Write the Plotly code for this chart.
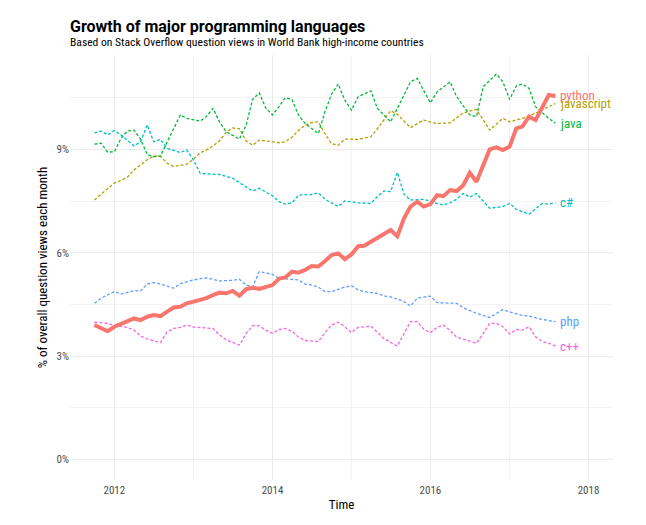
import pandas as pd
import plotly.graph_objects as go

# months counted from Oct 2011, share of question views in %
start = pd.Timestamp('2011-10-01')

python_months = [0, 1, 2, 3, 4, 6, 7, 8, 9, 10, 11, 12, 13, 14, 16, 17, 18, 19, 20, 21, 22, 23, 24, 25,
                 27, 28, 29, 30, 31, 32, 33, 34, 35, 36, 37, 38, 39, 40, 41, 42, 43, 44, 45, 46, 47, 48,
                 49, 50, 51, 52, 53, 54, 55, 56, 57, 58, 59, 60, 61, 62, 63, 64, 65, 66, 67, 68, 69, 70]
python_share = [3.90, 3.80, 3.72, 3.85, 3.93, 4.09, 4.04, 4.14, 4.19, 4.16, 4.29, 4.41, 4.43, 4.53,
                4.63, 4.68, 4.77, 4.84, 4.82, 4.89, 4.75, 4.94, 4.98, 4.95,
                5.06, 5.25, 5.28, 5.45, 5.42, 5.50, 5.61, 5.60, 5.76, 5.93, 5.98, 5.81, 5.95, 6.19, 6.20,
                6.32, 6.42, 6.56, 6.66, 6.48, 7.00, 7.34, 7.48, 7.34, 7.41, 7.67, 7.64, 7.82, 7.79, 7.96,
                8.32, 8.06, 8.51, 9.00, 9.06, 8.98, 9.08, 9.61, 9.66, 9.95, 9.85, 10.24, 10.58, 10.55]

java_months = [0, 1, 2, 3, 4, 5, 6, 7, 8, 9, 10, 12, 13, 14, 16, 17, 18, 19, 20, 22, 23, 24, 25, 26,
               27, 28, 29, 30, 31, 32, 33, 34, 35, 36, 37, 38, 39, 40, 42, 43, 45, 47, 48, 49, 51, 52,
               54, 55, 57, 58, 59, 61, 62, 63, 64, 65, 66, 67, 69, 70]
java_share = [9.15, 9.18, 8.92, 8.93, 9.32, 9.53, 9.56, 9.30, 8.85, 8.79, 8.81, 9.61, 10.00, 9.90,
              9.82, 9.95, 10.19, 9.80, 9.51, 9.30, 9.70, 10.45, 10.64, 10.20, 10.00, 10.25, 10.50,
              10.45, 10.00, 9.75, 9.60, 9.46, 10.10, 10.60, 10.90, 10.43, 10.14, 10.53, 10.70, 10.19,
              9.80, 10.60, 10.96, 11.06, 10.35, 10.67, 10.96, 10.53, 10.00, 9.95, 10.82, 11.19, 10.96,
              10.45, 10.84, 10.90, 10.77, 10.24, 9.90, 9.76]

js_months = [0, 1, 3, 4, 5, 6, 8, 9, 10, 11, 12, 14, 15, 16, 17, 18, 19, 20, 21, 22, 23, 24, 25,
             27, 28, 29, 30, 31, 32, 33, 34, 35, 36, 37, 38, 40, 42, 43, 44, 45, 46, 48, 50, 52, 54,
             56, 58, 60, 62, 63, 65, 67, 69, 70]
js_share = [7.53, 7.70, 8.02, 8.10, 8.19, 8.40, 8.70, 8.80, 8.80, 8.60, 8.50, 8.57, 8.72, 8.90, 8.98,
            9.10, 9.25, 9.50, 9.62, 9.60, 9.25, 9.12, 9.27, 9.22, 9.19, 9.22, 9.35, 9.55, 9.70, 9.78,
            9.80, 9.45, 9.17, 9.12, 9.30, 9.29, 9.37, 9.60, 9.85, 10.12, 10.02, 9.63, 9.85, 9.75, 9.77,
            10.06, 10.16, 9.56, 9.90, 9.80, 9.90, 10.05, 10.24, 10.33]

csharp_months = [0, 1, 2, 3, 4, 6, 7, 8, 9, 10, 11, 13, 14, 15, 16, 18, 19, 21, 23, 24, 25, 27, 28,
                 29, 30, 31, 33, 34, 35, 37, 38, 40, 42, 43, 44, 45, 46, 47, 48, 50, 52, 53, 54, 55,
                 56, 57, 58, 59, 60, 62, 63, 64, 66, 68, 69, 70]
csharp_share = [9.48, 9.53, 9.42, 9.55, 9.42, 9.10, 9.22, 9.71, 9.22, 9.29, 9.03, 8.91, 8.98, 8.69,
                8.30, 8.27, 8.27, 8.16, 7.90, 7.79, 7.87, 7.65, 7.48, 7.41, 7.45, 7.67, 7.69, 7.74,
                7.55, 7.34, 7.50, 7.45, 7.43, 7.63, 7.79, 7.77, 8.33, 7.70, 7.53, 7.55, 7.43, 7.38,
                7.45, 7.55, 7.72, 7.61, 7.72, 7.50, 7.29, 7.34, 7.43, 7.26, 7.12, 7.43, 7.41, 7.45]

php_months = [0, 1, 3, 4, 6, 7, 8, 9, 10, 12, 13, 15, 17, 19, 21, 22, 23, 24, 25, 26, 27, 28, 30,
              31, 32, 33, 34, 35, 36, 38, 39, 40, 41, 43, 44, 45, 47, 48, 49, 51, 52, 55, 56, 58, 60,
              61, 62, 63, 65, 66, 68, 70]
php_share = [4.53, 4.68, 4.87, 4.80, 4.90, 4.89, 5.09, 5.13, 5.09, 4.97, 5.10, 5.21, 5.27, 5.18, 5.20,
             5.23, 5.06, 5.01, 5.45, 5.40, 5.37, 5.25, 5.23, 5.21, 5.09, 5.06, 5.00, 4.87, 4.87, 5.00,
             5.04, 4.92, 4.87, 4.82, 4.74, 4.72, 4.58, 4.45, 4.68, 4.74, 4.55, 4.53, 4.40, 4.24, 4.12,
             4.24, 4.35, 4.28, 4.18, 4.16, 4.06, 4.00]

cpp_months = [0, 2, 3, 5, 6, 7, 8, 10, 11, 12, 13, 14, 15, 17, 18, 19, 20, 22, 23, 24, 25, 26, 27,
              28, 29, 30, 31, 32, 34, 35, 36, 37, 38, 39, 40, 42, 44, 46, 47, 48, 49, 50, 51, 52, 53,
              54, 55, 57, 58, 59, 60, 61, 62, 63, 64, 65, 66, 67, 68, 69, 70]
cpp_share = [3.98, 3.95, 3.88, 3.83, 3.75, 3.58, 3.50, 3.39, 3.70, 3.80, 3.83, 3.90, 3.84, 3.80, 3.80,
             3.61, 3.47, 3.32, 3.65, 3.88, 3.88, 3.75, 3.66, 3.77, 3.80, 3.72, 3.55, 3.45, 3.42, 3.68,
             3.90, 3.98, 3.85, 3.68, 3.83, 3.87, 3.50, 3.29, 3.66, 4.00, 4.00, 3.78, 3.68, 3.83, 3.90,
             3.74, 3.55, 3.42, 3.37, 3.65, 3.95, 3.95, 3.85, 3.64, 3.77, 3.75, 3.85, 3.56, 3.42, 3.37,
             3.29]

y_ticks = [0, 3, 6, 9]
x_ticks = ['2012', '2014', '2016', '2018']

# draw order: dashed ones first, python on top
series = [
    ('javascript', js_months, js_share, '#B79F00'),
    ('java', java_months, java_share, '#00BA38'),
    ('c#', csharp_months, csharp_share, '#00BFC4'),
    ('php', php_months, php_share, '#619CFF'),
    ('c++', cpp_months, cpp_share, '#F564E3'),
    ('python', python_months, python_share, '#F8766D'),
]

def to_dates(months):
    return [start + pd.DateOffset(months = m) for m in months]

cond = 'Roboto Condensed, Liberation Sans Narrow, DejaVu Sans Condensed, Roboto, sans-serif'

fig = go.Figure()
annotations = []
for name, months, share, color in series:
    dates = to_dates(months)
    if name == 'python':
        line = dict(color = color, width = 4)
    else:
        line = dict(color = color, width = 1.3, dash = '3px,2px')
    fig.add_trace(go.Scatter(x = dates, y = share, mode = 'lines', name = name, line = line))
    annotations.append(dict(x = dates[-1], y = share[-1], text = name, showarrow = False,
                            xanchor = 'left', xshift = 3, font = dict(family = cond, size = 13, color = color)))

annotations.append(dict(xref = 'paper', yref = 'paper', x = 0, y = 1.066, xanchor = 'left', yanchor = 'middle',
                        xshift = -2, text = '<b>Growth of major programming languages</b>', showarrow = False,
                        font = dict(family = 'Roboto', size = 16, color = 'black')))
annotations.append(dict(xref = 'paper', yref = 'paper', x = 0, y = 1.031, xanchor = 'left', yanchor = 'middle',
                        xshift = -2, text = 'Based on Stack Overflow question views in World Bank high-income countries',
                        showarrow = False, font = dict(family = cond, size = 11.6, color = 'black')))

# page has an 8px body margin, so margins are shifted by that
fig.update_layout(
    width = 646,
    height = 525,
    margin = dict(l = 62, r = 41, t = 47, b = 53),
    plot_bgcolor = 'white',
    paper_bgcolor = 'white',
    showlegend = False,
    annotations = annotations,
    font = dict(family = cond),
)
fig.update_xaxes(
    type = 'date',
    range = ['2011-06-10', '2018-04-24'],
    tickvals = [pd.Timestamp(t + '-01-01') for t in x_ticks],
    ticktext = x_ticks,
    showgrid = True, gridcolor = '#EBEBEB', gridwidth = 1.2,
    minor = dict(dtick = 'M12', tick0 = '2011-01-01', showgrid = True, gridcolor = '#F3F3F3', gridwidth = 0.8),
    zeroline = False, showline = False, ticks = '',
    ticklabelstandoff = 2,
    tickfont = dict(family = cond, size = 11, color = '#4D4D4D'),
    title = dict(text = 'Time', font = dict(family = cond, size = 13, color = 'black'), standoff = 3),
)
fig.update_yaxes(
    range = [-0.6, 11.74],
    tickvals = y_ticks,
    ticktext = [str(v) + '%' for v in y_ticks],
    showgrid = True, gridcolor = '#EBEBEB', gridwidth = 1.2,
    minor = dict(dtick = 1.5, tick0 = 0, showgrid = True, gridcolor = '#F3F3F3', gridwidth = 0.8),
    zeroline = False, showline = False, ticks = '',
    tickfont = dict(family = cond, size = 11, color = '#4D4D4D'),
    title = dict(text = '% of overall question views each month', font = dict(family = cond, size = 13, color = 'black'), standoff = 6),
)

fig.write_html('out.html')
